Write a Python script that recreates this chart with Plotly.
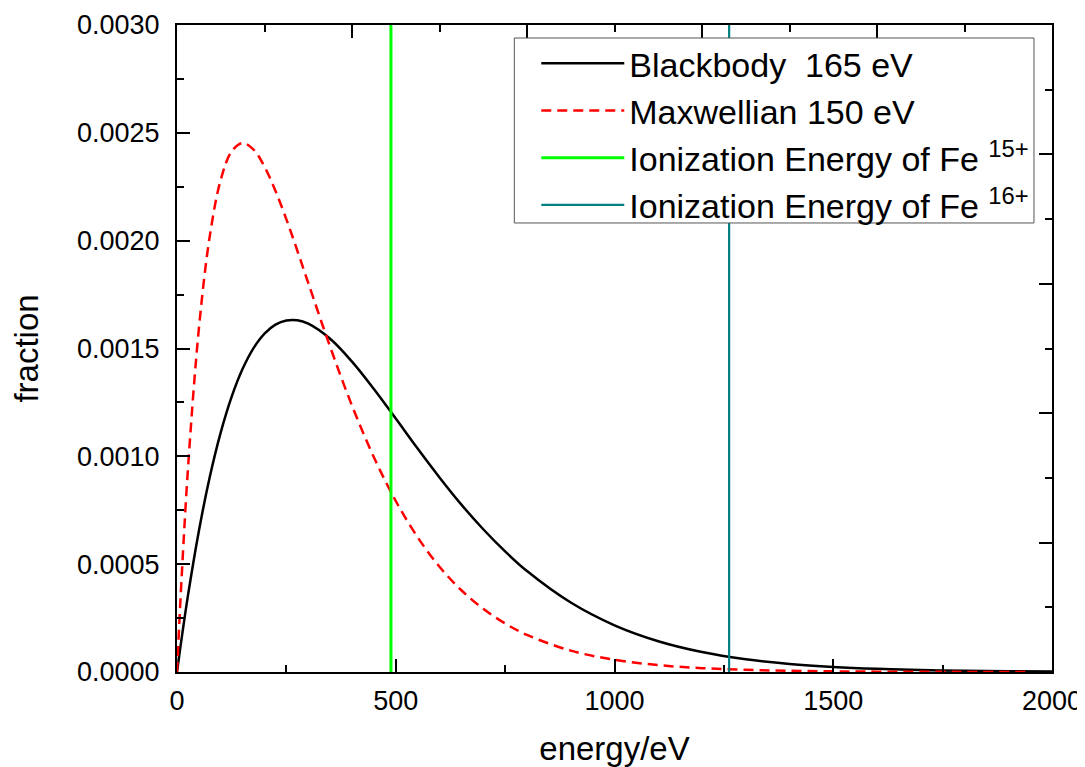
import plotly.graph_objects as go

# ---- data ----
energy_bb = [0, 5, 10, 25, 50, 75, 100, 125, 150, 175, 200, 225, 250, 275, 300,
             350, 400, 450, 500, 550, 600, 650, 700, 750, 800, 900, 1000, 1100,
             1200, 1300, 1400, 1500, 1600, 1700, 1800, 1900, 2000]
fraction_bb = [0.0, 0.0000752, 0.000148, 0.000354, 0.000654, 0.000905, 0.001111,
               0.001277, 0.001406, 0.001502, 0.001569, 0.001611, 0.001630,
               0.001631, 0.001615, 0.001545, 0.001439, 0.001312, 0.001175,
               0.001036, 0.000902, 0.000776, 0.000662, 0.000559, 0.000468,
               0.000322, 0.0002165, 0.0001427, 0.0000926, 0.0000593, 0.0000375,
               0.0000235, 0.0000146, 0.0000090, 0.0000055, 0.0000033, 0.0000020]

energy_mx = [0, 5, 10, 25, 50, 75, 100, 125, 150, 175, 200, 225, 250, 275, 300,
             350, 400, 450, 500, 550, 600, 650, 700, 750, 800, 900, 1000, 1100,
             1200, 1300, 1400, 1500, 1600, 1800, 1950]
fraction_mx = [0.0, 0.000215, 0.000416, 0.000941, 0.001592, 0.002022, 0.002282,
               0.002414, 0.002453, 0.002422, 0.002343, 0.002231, 0.002099,
               0.001954, 0.001804, 0.001508, 0.001235, 0.000996, 0.000793,
               0.000625, 0.000488, 0.000379, 0.000293, 0.000225, 0.000172,
               0.0000992, 0.0000566, 0.0000319, 0.0000179, 0.00000995,
               0.0000055, 0.0000030, 0.0000016, 0.00000049, 0.0000002]

ionization_energies = [489, 1262]
ionization_labels = ["Ionization Energy of Fe <sup>15+</sup>",
                     "Ionization Energy of Fe <sup>16+</sup>"]
ionization_colors = ["#00FF00", "#008080"]
y_range = [0, 0.003]
x_range = [0, 2000]

FONT = "Liberation Sans, Arial, Helvetica, sans-serif"

fig = go.Figure()
fig.add_trace(go.Scatter(x=energy_bb, y=fraction_bb, mode="lines",
                         name="Blackbody  165 eV", line_shape="spline",
                         line=dict(color="black", width=2.5)))
fig.add_trace(go.Scatter(x=energy_mx, y=fraction_mx, mode="lines",
                         name="Maxwellian 150 eV", line_shape="spline",
                         line=dict(color="#FF0000", width=2.5, dash="10px,6px")))
for e, lab, col, w in zip(ionization_energies, ionization_labels, ionization_colors, [3, 2.2]):
    fig.add_trace(go.Scatter(x=[e, e], y=y_range, mode="lines", name=lab,
                             line=dict(color=col, width=w)))
# helper trace so the mirrored top/right axes are drawn
fig.add_trace(go.Scatter(x=[], y=[], xaxis="x2", yaxis="y2", showlegend=False,
                         hoverinfo="skip"))

tick_common = dict(ticks="inside", ticklen=13, tickwidth=2, tickcolor="black",
                   showline=True, linewidth=2, linecolor="black",
                   showgrid=False, zeroline=False, automargin=False)
minor_common = dict(ticks="inside", ticklen=7, tickwidth=2, tickcolor="black")

fig.update_layout(
    width=1077, height=759,
    margin=dict(l=168.5, r=33, t=17, b=95),
    paper_bgcolor="white", plot_bgcolor="white",
    font=dict(family=FONT, color="black", size=27),
    xaxis=dict(range=x_range, dtick=500, tick0=0,
               minor=dict(dtick=250, **minor_common),
               tickfont=dict(size=27), ticklabelstandoff=4,
               title=dict(text="energy/eV", font=dict(size=33), standoff=23),
               **tick_common),
    yaxis=dict(range=y_range, dtick=0.0005, tick0=0, tickformat=".4f",
               minor=dict(dtick=0.00025, **minor_common),
               tickfont=dict(size=27), ticklabelstandoff=10,
               title=dict(text="fraction", font=dict(size=33), standoff=39),
               **tick_common),
    xaxis2=dict(range=x_range, overlaying="x", side="top", dtick=400, tick0=0,
                showticklabels=False, minor=dict(dtick=200, **minor_common),
                **tick_common),
    yaxis2=dict(range=y_range, overlaying="y", side="right", dtick=0.0006, tick0=0,
                showticklabels=False, minor=dict(dtick=0.0003, **minor_common),
                **tick_common),
    legend=dict(x=0.4106, y=0.985, xanchor="left", yanchor="top",
                bgcolor="rgba(0,0,0,0)", borderwidth=0,
                font=dict(size=34, family=FONT), itemwidth=83),
    showlegend=True,
    shapes=[dict(type="rect", xref="paper", yref="paper",
                 x0=0.3855, x1=0.9794, y0=0.694, y1=0.9799,
                 fillcolor="white", line=dict(color="#555555", width=1),
                 layer="above")],
)

fig.write_html("out.html")
